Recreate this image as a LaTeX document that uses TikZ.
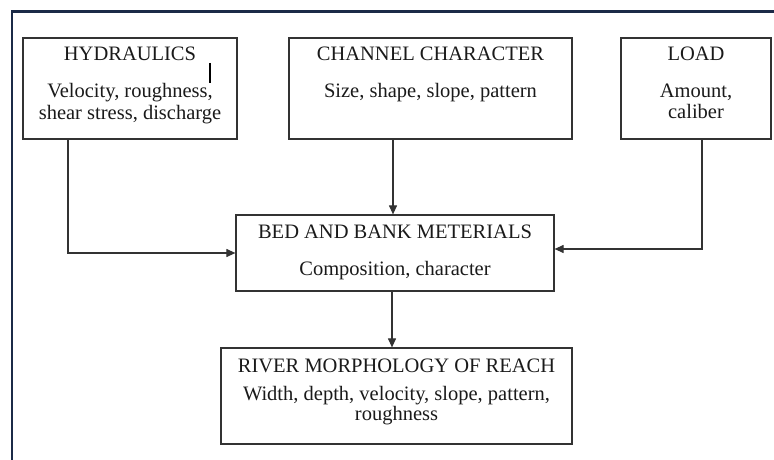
\documentclass[tikz,border=0pt]{standalone}
\usepackage{fontspec}
\setmainfont{Liberation Serif}
\usetikzlibrary{arrows.meta}
\definecolor{frame}{HTML}{1B2A47}
\definecolor{boxline}{HTML}{333333}
\definecolor{txt}{HTML}{1A1A1A}
\tikzset{
  box/.style={draw=boxline, line width=1.2pt, rectangle, inner sep=0pt, anchor=center},
  line/.style={anchor=base, inner sep=0pt, text=txt, font=\fontsize{20.5}{22}\selectfont},
  arr/.style={draw=boxline, line width=1.1pt, -{Triangle[length=9pt,width=8pt]}}
}
\begin{document}
\begin{tikzpicture}[x=1pt,y=-1pt]
\useasboundingbox (0,0) rectangle (774,460);
% outer frame (top and left only)
\draw[frame, line width=2.6pt] (12,460) -- (12,11.5) -- (774,11.5);
% boxes
\node[box, minimum width=214pt, minimum height=101pt] (H) at (130,88.5) {};
\node[box, minimum width=283pt, minimum height=101pt] (C) at (430.5,88.5) {};
\node[box, minimum width=150pt, minimum height=101pt] (L) at (696,88.5) {};
\node[box, minimum width=318pt, minimum height=76pt] (B) at (395,253) {};
\node[box, minimum width=351pt, minimum height=96pt] (R) at (396.5,396) {};
% texts
\node[line] (h1) at (130,61) {HYDRAULICS};
\node[line] (h2) at (130,97) {Velocity, roughness,};
\node[line] (h3) at (130,119) {shear stress, discharge};
\draw[black, line width=2pt] (210,63) -- (210,83);
\node[line] (c1) at (430.5,61) {CHANNEL CHARACTER};
\node[line] (c2) at (430.5,98) {Size, shape, slope, pattern};
\node[line] (l1) at (696,61) {LOAD};
\node[line] (l2) at (696,97) {Amount,};
\node[line] (l3) at (696,118) {caliber};
\node[line] (b1) at (395,238) {BED AND BANK METERIALS};
\node[line] (b2) at (395,275) {Composition, character};
\node[line] (r1) at (396.5,372) {RIVER MORPHOLOGY OF REACH};
\node[line] (r2) at (396.5,400) {Width, depth, velocity, slope, pattern,};
\node[line] (r3) at (396.5,420) {roughness};
% connectors
\coordinate (hx) at (68,253);
\coordinate (lx) at (702,249);
\coordinate (cx) at (393,0);
\coordinate (bx) at (392,0);
\draw[arr] (hx |- H.south) -- (hx) -- (B.west |- hx);
\draw[arr] (lx |- L.south) -- (lx) -- (B.east |- lx);
\draw[arr] (cx |- C.south) -- (cx |- B.north);
\draw[arr] (bx |- B.south) -- (bx |- R.north);
\end{tikzpicture}
\end{document}
